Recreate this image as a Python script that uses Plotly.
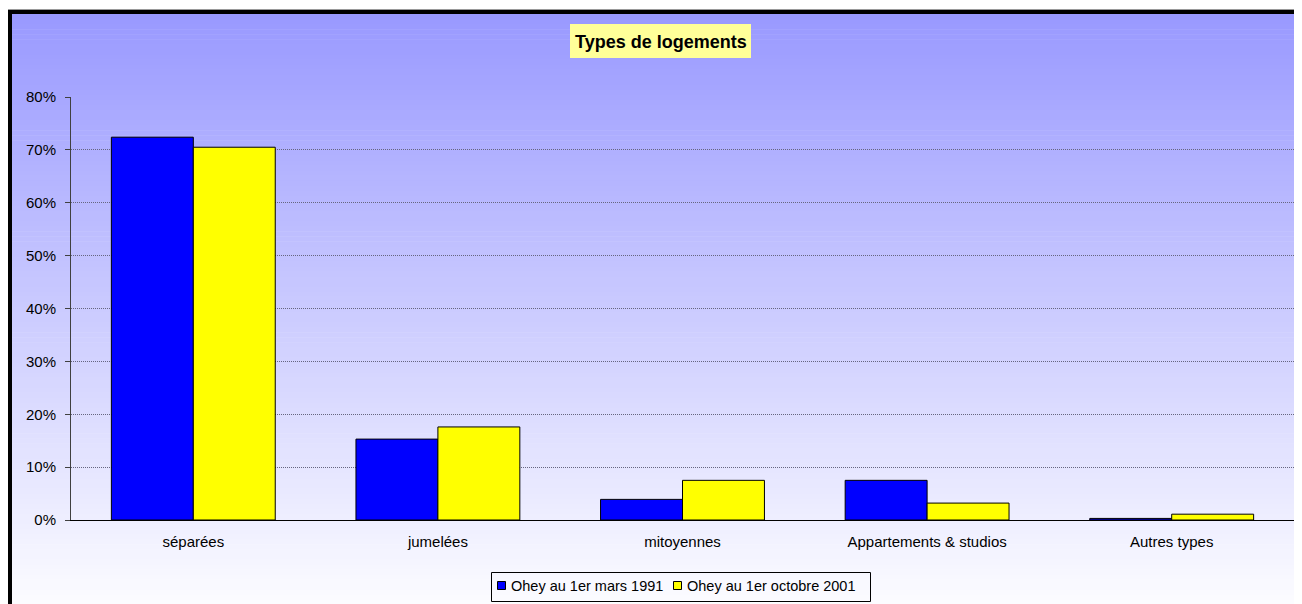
import plotly.graph_objects as go

categories = ["séparées", "jumelées", "mitoyennes", "Appartements & studios", "Autres types"]
series_names = ["Ohey au 1er mars 1991", "Ohey au 1er octobre 2001"]
values_1991 = [0.724, 0.153, 0.039, 0.075, 0.003]
values_2001 = [0.705, 0.176, 0.075, 0.032, 0.011]
y_ticks = [0, 0.1, 0.2, 0.3, 0.4, 0.5, 0.6, 0.7, 0.8]
series_colors = ["#0000FF", "#FFFF00"]

W, H = 1294, 596
L, R, T, B = 63, 8, 89, 84
PW = W - L - R
PH = H - T - B


def px2x(px):
    return (px - L) / PW


def py2y(py):
    return (H - B - py) / PH


fig = go.Figure()
for vals, name, col in zip([values_1991, values_2001], series_names, series_colors):
    fig.add_trace(go.Bar(x=categories, y=vals, name=name,
                         marker=dict(color=col, line=dict(color="#000000", width=1))))

shapes = []
# vertical gradient background
top_py, bot_py = 6, 612
n = 120
c0 = (153, 153, 255)
c1 = (255, 255, 255)
for i in range(n):
    a = top_py + (bot_py - top_py) * i / n
    b = top_py + (bot_py - top_py) * (i + 1) / n
    f = (i + 0.5) / n
    col = tuple(round(c0[k] + (c1[k] - c0[k]) * f) for k in range(3))
    shapes.append(dict(type="rect", xref="paper", yref="paper", layer="below",
                       x0=px2x(2), x1=px2x(1320), y0=py2y(min(b + 0.6, bot_py)), y1=py2y(a),
                       fillcolor="rgb(%d,%d,%d)" % col, line=dict(width=0)))
# thin gray line above border
shapes.append(dict(type="line", xref="paper", yref="paper", layer="above",
                   x0=px2x(0), x1=px2x(1320), y0=py2y(1.5), y1=py2y(1.5),
                   line=dict(color="#999999", width=1)))
# black chart border
shapes.append(dict(type="rect", xref="paper", yref="paper", layer="above",
                   x0=px2x(2), x1=px2x(1330), y0=py2y(640), y1=py2y(4),
                   line=dict(color="#000000", width=4)))
# title box
shapes.append(dict(type="rect", xref="paper", yref="paper", layer="above",
                   x0=px2x(562), x1=px2x(743), y0=py2y(50), y1=py2y(16),
                   fillcolor="#FFFF99", line=dict(width=0)))

annotations = [dict(text="<b>Types de logements</b>", xref="paper", yref="paper",
                    x=px2x(652.5), y=py2y(33.5), xanchor="center", yanchor="middle",
                    showarrow=False, font=dict(size=18, color="#000000"))]

# custom legend (box, swatches, labels)
shapes.append(dict(type="rect", xref="paper", yref="paper", layer="above",
                   x0=px2x(483.5), x1=px2x(862.5), y0=py2y(593.5), y1=py2y(564.5),
                   fillcolor="rgba(0,0,0,0)", line=dict(color="#000000", width=1)))
swatch_left = [489.5, 665.5]
text_left = [500.5, 677.0]
for name, col, sx, tx in zip(series_names, series_colors, swatch_left, text_left):
    shapes.append(dict(type="rect", xref="paper", yref="paper", layer="above",
                       x0=px2x(sx), x1=px2x(sx + 8), y0=py2y(581.5), y1=py2y(573.5),
                       fillcolor=col, line=dict(color="#000000", width=1)))
    annotations.append(dict(text=name, xref="paper", yref="paper",
                            x=px2x(tx), y=py2y(578), xanchor="left", yanchor="middle",
                            showarrow=False, font=dict(size=14.5, color="#000000")))

fig.update_layout(
    width=W, height=H,
    margin=dict(l=L, r=R, t=T, b=B, pad=0),
    paper_bgcolor="#FFFFFF",
    plot_bgcolor="rgba(0,0,0,0)",
    font=dict(family="Arial, Liberation Sans, sans-serif", size=15, color="#000000"),
    barmode="group", bargap=0.33, bargroupgap=0,
    shapes=shapes,
    annotations=annotations,
    showlegend=False,
    xaxis=dict(showline=True, linecolor="#000000", linewidth=1, ticks="",
               showgrid=False, tickfont=dict(size=15), ticklabelstandoff=8),
    yaxis=dict(range=[0, 0.8], tickvals=y_ticks, tickformat=".0%", showline=True,
               linecolor="#404040", linewidth=1, ticks="outside", ticklen=5, tickcolor="#404040",
               showgrid=True, gridcolor="#666680", gridwidth=1, griddash="1px,1px",
               zeroline=False, tickfont=dict(size=15), ticklabelstandoff=6),
)

fig.write_html("out.html")
